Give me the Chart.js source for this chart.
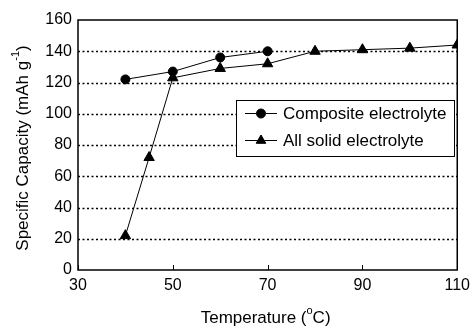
<!DOCTYPE html>
<html>
<head>
    <title>Specific capacity vs temperature</title>
    <script src="https://cdn.jsdelivr.net/npm/chart.js@4.4.0/dist/chart.umd.min.js"></script>
    <style>
        body { margin: 0; background: #fff; }
    </style>
</head>
<body>
    <canvas id="myChart" width="476" height="329"></canvas>
<script>
    // data
    const compositeTemp = [40, 50, 60, 70];
    const compositeCap = [122, 127, 136, 140];
    const solidTemp = [40, 45, 50, 60, 70, 80, 90, 100, 110];
    const solidCap = [22, 72, 123, 129, 132, 140, 141, 142, 144];
    const xTicks = [30, 50, 70, 90, 110];
    const yTicks = [0, 20, 40, 60, 80, 100, 120, 140, 160];
    const seriesNames = ['Composite electrolyte', 'All solid electrolyte'];

    const font = 'Liberation Sans, Arial, Helvetica, sans-serif';

    function toPoints(xs, ys) {
        return xs.map((x, i) => ({x: x, y: ys[i]}));
    }

    // text with a superscript part, x is the centre
    function drawSup(ctx, parts, x, y) {
        let total = 0;
        parts.forEach(p => {
            ctx.font = (p[1] ? '11px ' : '17px ') + font;
            total += ctx.measureText(p[0]).width;
        });
        let cx = x - total / 2;
        parts.forEach(p => {
            ctx.font = (p[1] ? '11px ' : '17px ') + font;
            ctx.fillText(p[0], cx, p[1] ? y - 7 : y);
            cx += ctx.measureText(p[0]).width;
        });
    }

    const framePlugin = {
        id: 'frame',
        beforeDatasetsDraw(chart) {
            const ctx = chart.ctx;
            const a = chart.chartArea;
            const ys = chart.scales.y;
            const xs = chart.scales.x;
            ctx.save();
            // dotted grid
            ctx.strokeStyle = '#000';
            ctx.lineWidth = 1.5;
            ctx.setLineDash([2, 2.5]);
            yTicks.forEach(v => {
                if (v === 0 || v === 160) return;
                const py = Math.round(ys.getPixelForValue(v)) + 0.5;
                ctx.beginPath();
                ctx.moveTo(a.left, py);
                ctx.lineTo(a.right, py);
                ctx.stroke();
            });
            ctx.setLineDash([]);
            // frame
            ctx.lineWidth = 1.5;
            ctx.strokeRect(a.left, a.top, a.right - a.left, a.bottom - a.top);
            // small inward ticks on the x axis
            ctx.lineWidth = 1;
            xTicks.forEach(v => {
                const px = Math.round(xs.getPixelForValue(v)) + 0.5;
                ctx.beginPath();
                ctx.moveTo(px, a.bottom);
                ctx.lineTo(px, a.bottom - 5);
                ctx.stroke();
            });
            ctx.restore();
        },
        afterDraw(chart) {
            const ctx = chart.ctx;
            const a = chart.chartArea;
            ctx.save();
            ctx.fillStyle = '#000';
            ctx.textBaseline = 'middle';
            ctx.textAlign = 'left';
            // x title
            drawSup(ctx, [['Temperature (', false], ['o', true], ['C)', false]], (a.left + a.right) / 2 - 2, 318);
            // y title
            ctx.save();
            ctx.translate(23, 148);
            ctx.rotate(-Math.PI / 2);
            drawSup(ctx, [['Specific Capacity (mAh g', false], ['-1', true], [')', false]], 0, 0);
            ctx.restore();

            // legend box
            const lx = 236, ly = 100, lw = 218, lh = 56;
            ctx.fillStyle = '#fff';
            ctx.fillRect(lx, ly, lw, lh);
            ctx.strokeStyle = '#000';
            ctx.lineWidth = 1;
            ctx.strokeRect(lx + 0.5, ly + 0.5, lw, lh);
            const rows = [113, 140];
            const styles = ['circle', 'triangle'];
            rows.forEach((ry, i) => {
                ctx.beginPath();
                ctx.moveTo(245, ry + 0.5);
                ctx.lineTo(277, ry + 0.5);
                ctx.stroke();
                Chart.helpers.drawPoint(ctx, {
                    pointStyle: styles[i],
                    radius: i === 0 ? 4.5 : 5.5,
                    borderWidth: 1
                }, 261, ry + 0.5);
                ctx.fillStyle = '#000';
                ctx.fill();
                ctx.font = '17px ' + font;
                ctx.fillText(seriesNames[i], 283, ry + 1);
            });
            ctx.restore();
        }
    };

    const canvas = document.getElementById('myChart');

    const myChart = new Chart(canvas, {
        type: 'scatter',
        data: {
            datasets: [{
                label: seriesNames[0],
                data: toPoints(compositeTemp, compositeCap),
                showLine: true,
                borderColor: '#000',
                backgroundColor: '#000',
                borderWidth: 1,
                pointStyle: 'circle',
                pointRadius: 4.5,
                pointHoverRadius: 4.5
            }, {
                label: seriesNames[1],
                data: toPoints(solidTemp, solidCap),
                showLine: true,
                borderColor: '#000',
                backgroundColor: '#000',
                borderWidth: 1,
                pointStyle: 'triangle',
                pointRadius: 6,
                pointHoverRadius: 6
            }]
        },
        options: {
            responsive: false,
            animation: false,
            events: [],
            layout: { padding: { top: 20, right: 15, left: 0, bottom: 0 } },
            plugins: {
                legend: { display: false },
                tooltip: { enabled: false }
            },
            scales: {
                x: {
                    type: 'linear',
                    min: 30,
                    max: 110,
                    afterBuildTicks: (s) => { s.ticks = xTicks.map(v => ({value: v})); },
                    afterFit: (s) => { s.height = 59; },
                    grid: { display: false, drawTicks: false },
                    border: { display: false },
                    ticks: { color: '#000', font: { family: font, size: 16 }, padding: 6, maxRotation: 0 }
                },
                y: {
                    min: 0,
                    max: 160,
                    afterBuildTicks: (s) => { s.ticks = yTicks.map(v => ({value: v})); },
                    afterFit: (s) => { s.width = 78; },
                    grid: { display: false, drawTicks: false },
                    border: { display: false },
                    ticks: { color: '#000', font: { family: font, size: 16 }, padding: 6 }
                }
            }
        },
        plugins: [framePlugin]
    });
</script>
</body>
</html>
